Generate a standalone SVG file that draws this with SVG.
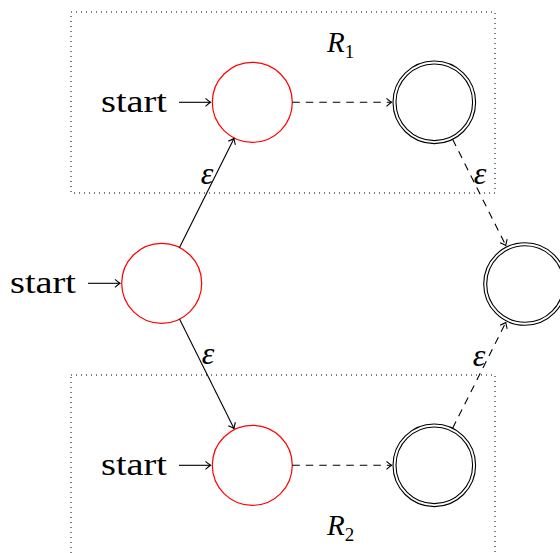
<svg xmlns="http://www.w3.org/2000/svg" width="560" height="553" viewBox="0 0 560 553">
<style>
.box{fill:none;stroke:#000;stroke-width:1;stroke-dasharray:1 4}
.init{fill:none;stroke:#ff0000;stroke-width:1.2}
.acc{fill:none;stroke:#000;stroke-width:1.1}
.edge{fill:none;stroke:#000;stroke-width:1.1;marker-end:url(#to)}
.dash{stroke-dasharray:7.5 6}
.t{font-family:"Liberation Serif","DejaVu Serif",serif;fill:#000}
.lbl{font-size:31px}
.eps{font-size:32px;font-style:italic;text-anchor:middle}
.r{font-size:29px;font-style:italic}
</style>
<defs>
<marker id="to" viewBox="-6 -5 8 10" refX="0" refY="0" markerWidth="8" markerHeight="10" markerUnits="userSpaceOnUse" orient="auto">
<path d="M-5,-4 Q-1.5,-1 0,0 Q-1.5,1 -5,4" fill="none" stroke="#000" stroke-width="1.1"/>
</marker>
</defs>
<g id="boxes">
<rect class="box" x="71" y="12" width="424" height="181"/>
<rect class="box" x="71" y="375" width="424" height="190"/>
<text class="t r" x="327" y="52">R<tspan font-size="19" font-style="normal" dy="6">1</tspan></text>
<text class="t r" x="327" y="535">R<tspan font-size="19" font-style="normal" dy="6">2</tspan></text>
</g>
<g id="s0">
<circle class="init" cx="161.7" cy="283.3" r="40"/>
<text class="t lbl" x="10" y="293" textLength="66" lengthAdjust="spacingAndGlyphs">start</text>
</g>
<g id="s1">
<circle class="init" cx="252.3" cy="102.3" r="40"/>
<text class="t lbl" x="101" y="112" textLength="66" lengthAdjust="spacingAndGlyphs">start</text>
</g>
<g id="f1">
<circle class="acc" cx="434.3" cy="102.3" r="41.3"/>
<circle class="acc" cx="434.3" cy="102.3" r="38.3"/>
</g>
<g id="s2">
<circle class="init" cx="252.3" cy="465.3" r="40"/>
<text class="t lbl" x="101" y="475" textLength="66" lengthAdjust="spacingAndGlyphs">start</text>
</g>
<g id="f2">
<circle class="acc" cx="434.3" cy="465.3" r="41.3"/>
<circle class="acc" cx="434.3" cy="465.3" r="38.3"/>
</g>
<g id="f">
<circle class="acc" cx="525" cy="284" r="41.3"/>
<circle class="acc" cx="525" cy="284" r="38.3"/>
</g>
<g id="connectors">
<line class="edge" x1="88" y1="283.3" x2="120" y2="283.3"/>
<line class="edge" x1="179" y1="102.3" x2="210.5" y2="102.3"/>
<line class="edge" x1="179" y1="465.3" x2="210.5" y2="465.3"/>
<line class="edge" x1="179.5" y1="247.5" x2="234" y2="138.5"/>
<line class="edge" x1="179.5" y1="319.1" x2="234" y2="428.5"/>
<line class="edge dash" x1="292.3" y1="102.3" x2="391.5" y2="102.3"/>
<line class="edge dash" x1="292.3" y1="465.3" x2="391.5" y2="465.3"/>
<line class="edge dash" x1="452.6" y1="139.3" x2="505.8" y2="245.5"/>
<line class="edge dash" x1="452.6" y1="428.3" x2="505.8" y2="322.5"/>
<text class="t eps" x="207" y="184">ε</text>
<text class="t eps" x="208" y="364">ε</text>
<text class="t eps" x="480" y="184">ε</text>
<text class="t eps" x="479" y="366">ε</text>
</g>
</svg>
